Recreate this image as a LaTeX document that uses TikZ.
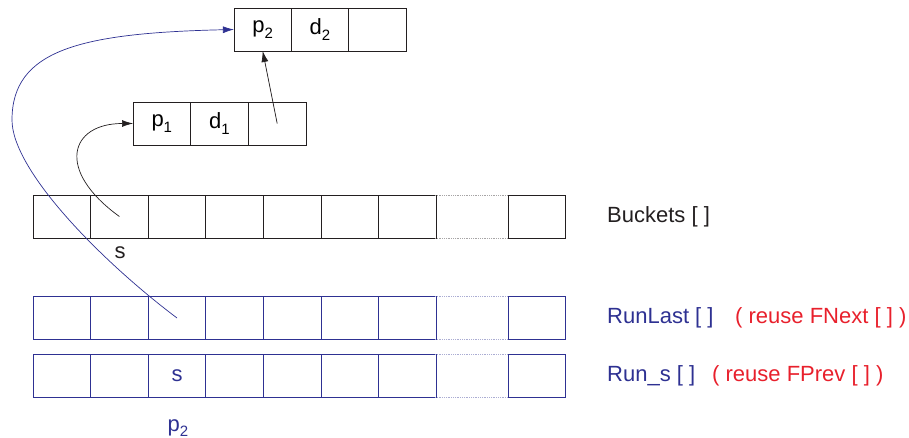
\documentclass[tikz,border=0pt]{standalone}
\usepackage{fontspec}
\setmainfont{Liberation Sans}
\usetikzlibrary{arrows.meta}
\definecolor{rblue}{RGB}{46,49,146}
\definecolor{rred}{RGB}{232,32,44}
\definecolor{rblack}{RGB}{35,31,32}
\newcommand{\sbs}[1]{\raisebox{-0.45ex}{\fontsize{15}{15}\selectfont #1}}
\begin{document}
\begin{tikzpicture}[x=1pt,y=-1pt,
  cellbox/.style={draw=rblack,line width=0.8pt,minimum height=43pt,minimum width=57.6pt,inner sep=0pt,outer sep=0pt,font=\fontsize{22}{26}\selectfont},
  bluecell/.style={cellbox,draw=rblue},
  gapcell/.style={cellbox,draw=none,minimum width=73pt},
  lbl/.style={font=\fontsize{22}{26}\selectfont,inner sep=0pt},
  arr/.style={-{Latex[length=11pt,width=7pt]},line width=0.7pt}]
\useasboundingbox (0,0) rectangle (909,438);
% top record
\node[cellbox] (t1) at (262.7,29.5) {p\sbs{2}};
\node[cellbox,minimum width=57.3pt] (t2) at (320,29.5) {d\sbs{2}};
\node[cellbox,minimum width=57.3pt] (t3) at (377.3,29.5) {};
% middle record
\node[cellbox] (m1) at (161.8,123.5) {p\sbs{1}};
\node[cellbox] (m2) at (219.5,123.5) {d\sbs{1}};
\node[cellbox] (m3) at (277.2,123.5) {};
% rows
\foreach \r/\y/\st in {b/216.5/cellbox, r/318/bluecell, s/376/bluecell}{
  \foreach \i in {1,...,7}{
    \node[\st] (\r\i) at ({33+57.6*(\i-0.5)},\y) {};
  }
  \node[gapcell] (\r8) at (471.5,\y) {};
  \node[\st,minimum width=57pt] (\r9) at (536.5,\y) {};
}
\foreach \r/\c in {b/rblack, r/rblue, s/rblue}{
  \draw[\c!40,line width=0.8pt,densely dotted] (\r8.north west) -- (\r8.north east);
  \draw[\c!40,line width=0.8pt,densely dotted] (\r8.south west) -- (\r8.south east);
}
% texts
\node[lbl,text=rblack] (sb) at (120,253) {s};
\node[lbl,text=rblue] (ss) at (s3.center) {s};
\node[lbl,text=rblue] (pp) at (178,428) {p\sbs{2}};
\node[lbl,text=rblack,anchor=west] (lb) at (607,216.5) {Buckets [ ]};
\node[lbl,text=rblue,anchor=west] (lr) at (607,318) {RunLast [ ]};
\node[lbl,text=rred,anchor=west] (lr2) at (735,318) {( reuse FNext [ ] )};
\node[lbl,text=rblue,anchor=west] (ls) at (607,376) {Run\_s [ ]};
\node[lbl,text=rred,anchor=west] (ls2) at (712,376) {( reuse FPrev [ ] )};
% connectors
\draw[arr,rblack] (b2.center) .. controls (55,170) and (70,123.5) .. (m1.west);
\draw[arr,rblack] (m3.center) -- (t1.south);
\coordinate (bl) at (12,120);
\draw[rblue,line width=0.7pt] (r3.center) .. controls (100,260) and (12,170) .. (bl);
\draw[arr,rblue] (bl) .. controls (12,50) and (80,33) .. (t1.west);
\end{tikzpicture}
\end{document}
